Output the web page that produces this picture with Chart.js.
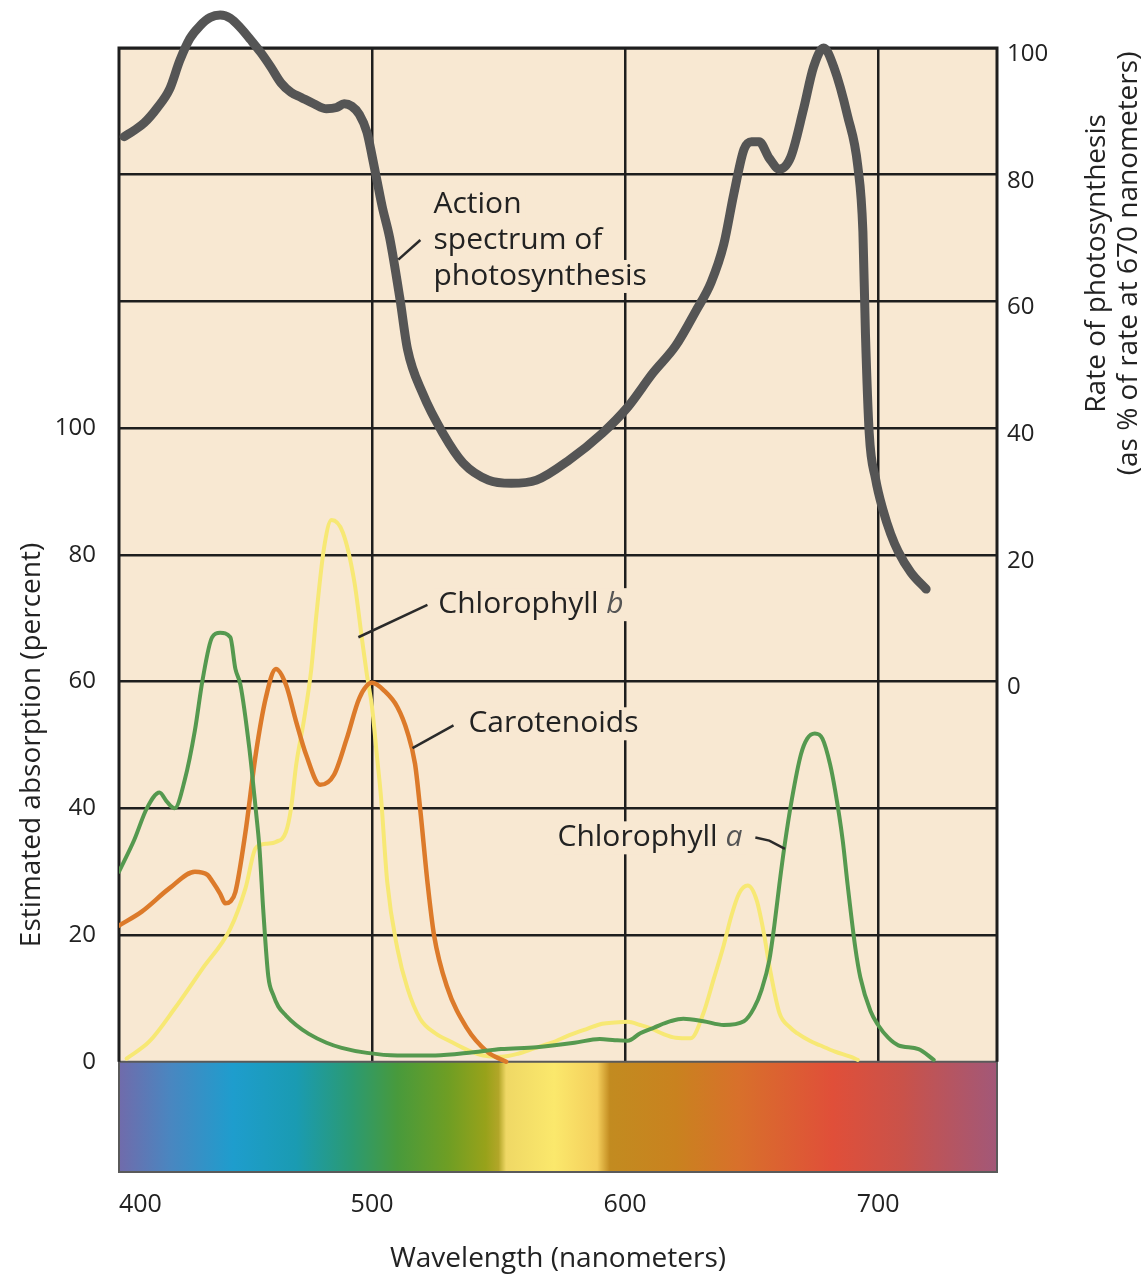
<!DOCTYPE html>
<html>
<head>
<meta charset="utf-8">
<script src="https://cdn.jsdelivr.net/npm/chart.js@4.4.1/dist/chart.umd.min.js"></script>
<style>
  body { margin: 0; background: #fff; }
  canvas { display: block; }
</style>
</head>
<body>
<canvas id="chartJSContainer" width="1145" height="1281"></canvas>
<script>
// action spectrum, % of rate at 670 nm (right axis)
var actionWave = [402, 406, 410, 415, 420, 424, 428, 432, 436, 440, 444, 448, 452, 456, 460, 464, 468, 472, 477, 482, 486, 489, 492, 495, 498, 500, 502, 504, 507, 511, 514, 520, 528, 536, 546, 555, 565, 578, 591, 601, 611, 620, 628, 634, 639, 643, 647, 650, 653, 657, 661, 665.5, 670.5, 674.5, 678.5, 682.5, 688, 692, 694, 695, 696.5, 699, 702, 705, 708, 713, 719];
var actionRate = [86, 87, 88.2, 90.5, 93.5, 98, 101.5, 103.5, 104.8, 105.2, 104.7, 103.2, 101.3, 99.3, 97, 94.5, 93, 92.2, 91.2, 90.4, 90.6, 91.2, 90.8, 89.5, 86.7, 83, 79, 75, 70, 60.5, 52.5, 45.5, 39.2, 34.5, 31.8, 31.3, 31.8, 35, 39.2, 43.3, 48.7, 53, 58.5, 63, 69, 77, 84, 85.2, 85.2, 82.6, 80.9, 82.8, 90.3, 97, 100, 97, 89.2, 81.3, 71, 55, 39.2, 32, 27, 23.3, 20.5, 17.2, 14.6];

// absorption (left axis)
var chlAWave = [400, 406, 411, 416, 419, 422, 426, 430, 433, 436.8, 440, 444, 446, 448, 451.5, 454, 455.5, 457, 459, 461, 463, 466, 470, 475, 482, 488, 498, 510, 525, 540, 551, 565, 580, 590, 596, 601, 606, 611.5, 618, 623, 631, 639, 647, 651, 654, 657, 659, 661, 663, 666, 669.5, 672, 675, 678, 681, 683, 686, 688, 691, 693, 697, 700, 704, 708, 716, 722];
var chlA = [30, 35, 40, 42.5, 41, 40, 44.5, 52.3, 60.2, 67, 67.7, 67, 62, 59.5, 49.5, 40, 33.8, 24, 13.5, 10.5, 8.7, 7.3, 5.8, 4.4, 3, 2.2, 1.4, 1, 1, 1.5, 2, 2.3, 3, 3.6, 3.4, 3.3, 4.5, 5.4, 6.4, 6.8, 6.4, 5.8, 6.4, 8.5, 11.4, 16, 21.5, 28, 34, 41.6, 48.5, 51, 51.8, 51, 47, 42.9, 35, 27.8, 18, 13.3, 8, 5.8, 3.8, 2.6, 2, 0.3];

var chlBWave = [403, 412, 422, 433, 444, 450, 454, 458, 462, 466, 468, 470, 473, 476, 478, 481, 484, 488.5, 493, 496, 498, 500, 502, 503.5, 506, 510, 514, 519, 525, 531, 538, 544, 551, 558, 564, 571, 578, 585, 591, 596, 601, 606, 610, 615, 620, 626, 631, 635, 639, 642, 645, 648.5, 652, 655, 657, 661, 665, 668, 673, 677, 683, 689, 692];
var chlB = [0.5, 3.2, 8.4, 14.7, 21, 27.4, 33.7, 34.4, 34.7, 36.3, 40, 46.8, 53.7, 62, 70.5, 81, 85.5, 83.5, 75.8, 66.8, 61, 56, 48, 42, 28.4, 17.9, 11.6, 6.8, 4.5, 3.2, 1.8, 1, 0.8, 1.3, 2.1, 3, 4.2, 5.2, 6, 6.2, 6.3, 5.8, 5.3, 4.4, 3.8, 3.7, 7.7, 13, 18.4, 23, 26.5, 27.8, 25.5, 20, 15.2, 7.7, 5.5, 4.5, 3.3, 2.6, 1.6, 0.8, 0.3];

var caroWave = [400, 409, 420, 430, 435, 437, 440, 442, 444, 446, 450, 454, 458, 462, 466, 470, 474, 479.5, 485, 490, 495, 500, 505, 510, 514, 517, 519, 522, 524.5, 529.5, 537.5, 545.5, 553];
var caro = [21.5, 23.7, 27.4, 30, 29.5, 28.4, 26.5, 25, 25.3, 26.8, 36.3, 48.4, 57.4, 62, 59.5, 53.7, 48.4, 43.7, 45.3, 51, 57.4, 59.8, 58.5, 56, 52, 47, 40, 28, 20, 12, 5.3, 1.6, 0];

// colour band under the plot
var spectrumWave = [400, 420, 445, 470, 492, 510, 530, 545, 550, 553, 572, 589, 594, 620, 645, 682, 710, 747];
var spectrumColor = ['#706bab', '#4a86c0', '#1e9dcd', '#1a9bb2', '#2b9a72', '#489a3c', '#6e9e24', '#98a21a', '#b2a628', '#efd865', '#fbe86c', '#f4cf5c', '#c28b20', '#c9821f', '#d8702b', '#e04f39', '#c9524a', '#a25878'];

var xTicks = [400, 500, 600, 700];
var leftTicks = [0, 20, 40, 60, 80, 100];
var rightTicks = [0, 20, 40, 60, 80, 100];
var gridValues = [0, 20, 40, 60, 80, 100, 120, 140, 160];

var paper = '#f8e8d2';
var ink = '#1e1e1e';
var sans = "'Open Sans', 'Noto Sans', sans-serif";

function toPoints(xs, ys) {
  return xs.map((x, i) => ({ x: x, y: ys[i] }));
}

// labels next to the curves, anchored in data units
var notes = [
  { axis: 'y2', x: 524.3, y: 74.0, lines: [['Action']], },
  { axis: 'y2', x: 524.3, y: 68.3, lines: [['spectrum of']] },
  { axis: 'y2', x: 524.3, y: 62.6, lines: [['photosynthesis']] },
  { axis: 'y', x: 526.2, y: 70.8, lines: [['Chlorophyll '], ['b', true]] },
  { axis: 'y', x: 538.1, y: 52.0, lines: [['Carotenoids']] },
  { axis: 'y', x: 573.3, y: 34.0, lines: [['Chlorophyll '], ['a', true]] }
];
var leaders = [
  { axis: 'y2', pts: [[510.4, 66.6], [519.1, 69.7]] },
  { axis: 'y', pts: [[494.6, 67.0], [521.9, 72.1]] },
  { axis: 'y', pts: [[516.0, 49.5], [532.2, 53.1]] },
  { axis: 'y', pts: [[651.5, 35.4], [657.0, 34.9], [663.2, 33.6]] }
];

const backdrop = {
  id: 'backdrop',
  beforeDraw(chart) {
    const { ctx, chartArea: a } = chart;
    ctx.save();
    ctx.fillStyle = paper;
    ctx.fillRect(a.left, a.top, a.right - a.left, a.bottom - a.top);
    ctx.restore();
  },
  beforeDatasetsDraw(chart) {
    const { ctx, chartArea: a, scales } = chart;
    const y0 = scales.y.getPixelForValue(0);
    const w = a.right - a.left;
    const grad = ctx.createLinearGradient(a.left, 0, a.right, 0);
    spectrumWave.forEach((wl, i) => {
      let p = (scales.x.getPixelForValue(wl) - a.left) / w;
      grad.addColorStop(Math.min(1, Math.max(0, p)), spectrumColor[i]);
    });
    ctx.save();
    ctx.fillStyle = grad;
    ctx.fillRect(a.left, y0, w, a.bottom - y0);
    ctx.strokeStyle = '#5a5a5a';
    ctx.lineWidth = 2;
    ctx.strokeRect(a.left, y0, w, a.bottom - y0);
    ctx.strokeStyle = ink;
    ctx.lineWidth = 3;
    ctx.beginPath();
    ctx.moveTo(a.left, y0);
    ctx.lineTo(a.left, a.top);
    ctx.lineTo(a.right, a.top);
    ctx.lineTo(a.right, y0);
    ctx.stroke();
    ctx.restore();
  },
  afterDatasetsDraw(chart) {
    const { ctx, scales } = chart;
    ctx.save();
    ctx.strokeStyle = '#2a2a2a';
    ctx.lineWidth = 2.5;
    leaders.forEach(l => {
      ctx.beginPath();
      l.pts.forEach((p, i) => {
        const px = scales.x.getPixelForValue(p[0]);
        const py = scales[l.axis].getPixelForValue(p[1]);
        if (i === 0) ctx.moveTo(px, py); else ctx.lineTo(px, py);
      });
      ctx.stroke();
    });
    ctx.textBaseline = 'alphabetic';
    ctx.textAlign = 'left';
    notes.forEach(n => {
      let px = scales.x.getPixelForValue(n.x);
      const py = scales[n.axis].getPixelForValue(n.y);
      let total = 0;
      n.lines.forEach(part => {
        ctx.font = (part[1] ? 'italic ' : '') + '30px ' + sans;
        total += ctx.measureText(part[0]).width;
      });
      ctx.fillStyle = paper;
      ctx.fillRect(px - 4, py - 25, total + 8, 33);
      n.lines.forEach(part => {
        ctx.font = (part[1] ? 'italic ' : '') + '30px ' + sans;
        ctx.fillStyle = part[1] ? '#555' : '#222';
        ctx.fillText(part[0], px, py);
        px += ctx.measureText(part[0]).width;
      });
    });
    // axis titles that sit off-centre
    ctx.fillStyle = '#222';
    ctx.textAlign = 'center';
    ctx.textBaseline = 'middle';
    ctx.font = '28px ' + sans;
    ctx.translate(32, scales.y.getPixelForValue(50));
    ctx.rotate(-Math.PI / 2);
    ctx.fillText('Estimated absorption (percent)', 0, 0);
    ctx.setTransform(1, 0, 0, 1, 0, 0);
    const ry = scales.y2.getPixelForValue(66);
    ctx.translate(1097, ry);
    ctx.rotate(-Math.PI / 2);
    ctx.fillText('Rate of photosynthesis', 0, 0);
    ctx.fillText('(as % of rate at 670 nanometers)', 0, 32);
    ctx.restore();
  }
};

const data = {
  datasets: [
    {
      label: 'Action spectrum of photosynthesis',
      data: toPoints(actionWave, actionRate),
      yAxisID: 'y2',
      borderColor: '#555555',
      borderWidth: 9,
      clip: false
    },
    {
      label: 'Chlorophyll a',
      data: toPoints(chlAWave, chlA),
      yAxisID: 'y',
      borderColor: '#55994f',
      borderWidth: 4
    },
    {
      label: 'Carotenoids',
      data: toPoints(caroWave, caro),
      yAxisID: 'y',
      borderColor: '#dc7a2a',
      borderWidth: 4.5
    },
    {
      label: 'Chlorophyll b',
      data: toPoints(chlBWave, chlB),
      yAxisID: 'y',
      borderColor: '#f7e874',
      borderWidth: 4
    }
  ]
};

const options = {
  type: 'line',
  data: data,
  plugins: [backdrop],
  options: {
    responsive: false,
    animation: false,
    devicePixelRatio: 1,
    layout: { padding: { top: 48, left: 0, right: 0, bottom: 0 } },
    elements: {
      point: { radius: 0 },
      line: { cubicInterpolationMode: 'monotone', fill: false, borderCapStyle: 'round', borderJoinStyle: 'round' }
    },
    plugins: {
      legend: { display: false },
      tooltip: { enabled: false }
    },
    scales: {
      x: {
        type: 'linear',
        min: 400,
        max: 747,
        // extra blank tick at the right edge so 'inner' only shifts the 400 label
        afterBuildTicks: s => { s.ticks = xTicks.concat([747]).map(v => ({ value: v })); },
        afterFit: s => { s.height = 109; },
        border: { display: false },
        grid: {
          drawTicks: false,
          lineWidth: 2.5,
          color: c => (c.tick && (c.tick.value === 400 || c.tick.value === 747)) ? 'rgba(0,0,0,0)' : ink
        },
        ticks: {
          padding: 18,
          align: 'inner',
          color: '#222',
          font: { family: "'Liberation Sans Narrow', 'Open Sans', sans-serif", size: 25 },
          callback: v => xTicks.includes(v) ? v : ''
        },
        title: {
          display: true,
          text: 'Wavelength (nanometers)',
          color: '#222',
          font: { family: sans, size: 28 },
          padding: { top: 0, bottom: 5 }
        }
      },
      y: {
        type: 'linear',
        position: 'left',
        min: -17.4,
        max: 160,
        afterBuildTicks: s => { s.ticks = gridValues.map(v => ({ value: v })); },
        afterFit: s => { s.width = 119; },
        border: { display: false },
        grid: { drawTicks: false, lineWidth: 2.5, color: ink },
        ticks: {
          padding: 23,
          color: '#222',
          font: { family: sans, size: 24 },
          callback: v => leftTicks.includes(v) ? v : ''
        }
      },
      y2: {
        type: 'linear',
        position: 'right',
        min: -77.4,
        max: 100,
        afterBuildTicks: s => { s.ticks = rightTicks.map(v => ({ value: v })); },
        afterFit: s => { s.width = 148; },
        border: { display: false },
        grid: { display: false, drawTicks: false },
        ticks: {
          padding: 10,
          labelOffset: 6,
          color: '#222',
          font: { family: sans, size: 24 }
        }
      }
    }
  }
};

const ctx = document.getElementById('chartJSContainer').getContext('2d');
const chart = new Chart(ctx, options);
</script>
</body>
</html>
